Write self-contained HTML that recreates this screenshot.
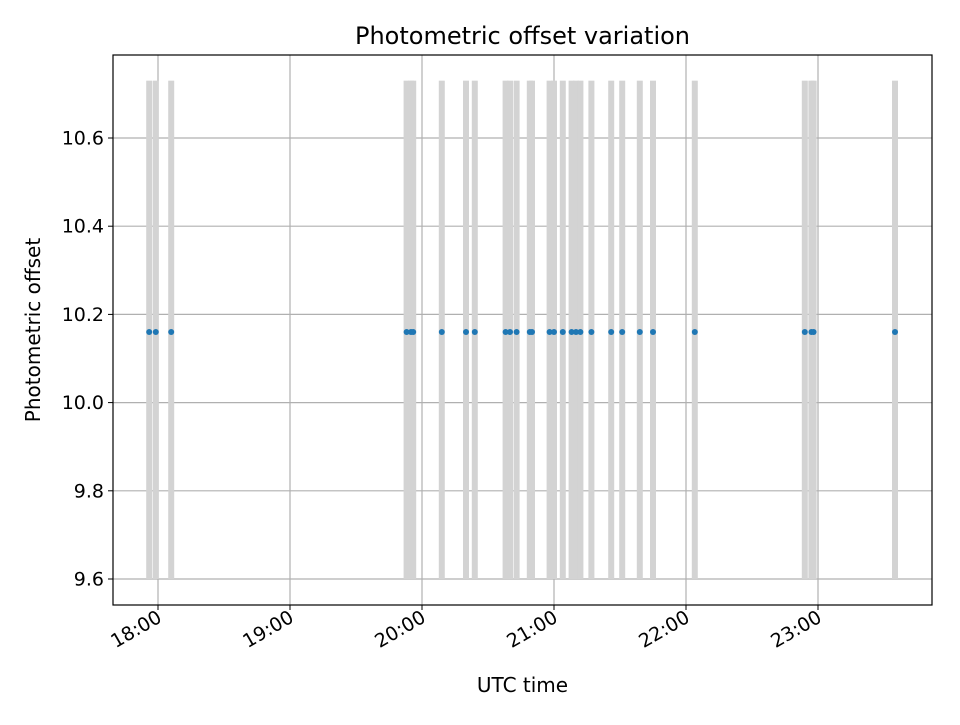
<!DOCTYPE html>
<html><head><meta charset="utf-8"><style>
html,body{margin:0;padding:0;background:#fff;}
svg text{font-family:"DejaVu Sans","Liberation Sans",sans-serif;fill:#000;}
</style></head><body>
<svg id="c" width="960" height="720" xmlns="http://www.w3.org/2000/svg"></svg>
<script>
const times = ["17:56","17:59","18:06","19:53","19:55","19:56","20:09","20:20","20:24","20:38","20:40","20:43","20:49","20:50","20:58","21:00","21:04","21:08","21:10","21:12","21:17","21:26","21:31","21:39","21:45","22:04","22:54","22:57","22:58","23:35"];
const offsets = [10.16,10.16,10.16,10.16,10.16,10.16,10.16,10.16,10.16,10.16,10.16,10.16,10.16,10.16,10.16,10.16,10.16,10.16,10.16,10.16,10.16,10.16,10.16,10.16,10.16,10.16,10.16,10.16,10.16,10.16];
const barTop = 10.73;
const barBottom = 9.6;
const yTicks = [9.6,9.8,10.0,10.2,10.4,10.6];
const xTickLabels = ["18:00","19:00","20:00","21:00","22:00","23:00"];

const L=113,R=932,T=55,B=605;
const NS="http://www.w3.org/2000/svg";
const svg=document.getElementById('c');
function toH(s){const p=s.split(':');return +p[0]+ +p[1]/60;}
function xs(h){return 158+(h-18)*132;}
function ys(v){return 579-(v-9.6)*441;}
function mk(tag,attrs,parent){const e=document.createElementNS(NS,tag);for(const k in attrs)e.setAttribute(k,attrs[k]);(parent||svg).appendChild(e);return e;}

const grid=mk('g',{});


xTickLabels.forEach(l=>{const x=xs(toH(l));mk('line',{x1:x,x2:x,y1:T,y2:B,stroke:'#b0b0b0','stroke-width':1.2},grid);});
yTicks.forEach(v=>{const y=ys(v);mk('line',{x1:L,x2:R,y1:y,y2:y,stroke:'#b0b0b0','stroke-width':1.2},grid);});

const bars=mk('g',{});


times.forEach(t=>{const x=xs(toH(t));
 const r=mk('rect',{x:x-3,y:ys(barTop),width:6,height:ys(barBottom)-ys(barTop),fill:'#d3d3d3'},bars);
 
 
});
const pts=mk('g',{});


times.forEach((t,i)=>{
 const c=mk('circle',{cx:xs(toH(t)),cy:ys(offsets[i]),r:3,fill:'#1f77b4'},pts);
 
 
});

const frame=mk('rect',{x:L,y:T,width:R-L,height:B-T,fill:'none',stroke:'#000','stroke-width':1.2});



yTicks.forEach(v=>{const y=ys(v);
 mk('line',{x1:L-5,x2:L,y1:y,y2:y,stroke:'#000','stroke-width':1});
 const tx=mk('text',{x:L-9,y:y+6.5,'text-anchor':'end','font-size':19});
 tx.textContent=v.toFixed(1);
 
 
});
xTickLabels.forEach(l=>{const x=xs(toH(l));
 mk('line',{x1:x,x2:x,y1:B,y2:B+5,stroke:'#000','stroke-width':1});
 const tx=mk('text',{x:x+5,y:B+16,'text-anchor':'end','font-size':19,transform:`rotate(-30 ${x+5} ${B+16})`});
 tx.textContent=l;
 
 
});

const title=mk('text',{x:(L+R)/2,y:44,'text-anchor':'middle','font-size':24});
title.textContent='Photometric offset variation';


const xl=mk('text',{x:(L+R)/2,y:692,'text-anchor':'middle','font-size':20});
xl.textContent='UTC time';


const yl=mk('text',{x:40,y:330,'text-anchor':'middle','font-size':20,transform:'rotate(-90 40 330)'});
yl.textContent='Photometric offset';


</script>
</body></html>
